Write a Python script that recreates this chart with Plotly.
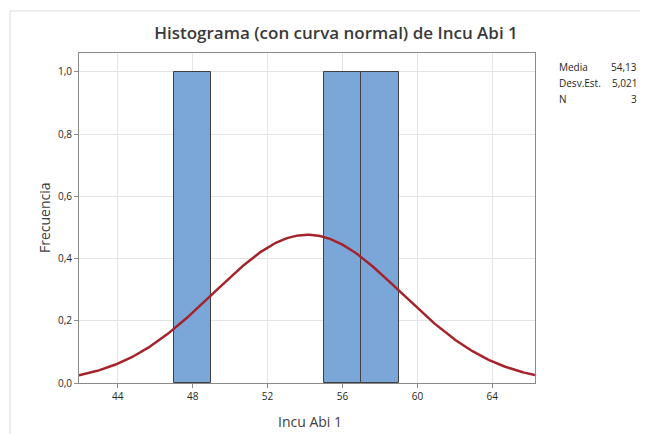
import numpy as np
import plotly.graph_objects as go

# Histogram bins (centers), counts
bin_centers = [48, 56, 58]
counts = [1, 1, 1]
bin_width = 2

# Summary statistics
media = 54.13
desv_est = 5.021
n = 3

x_ticks = [44, 48, 52, 56, 60, 64]
y_ticks = [0.0, 0.2, 0.4, 0.6, 0.8, 1.0]
y_tick_labels = ["0,0", "0,2", "0,4", "0,6", "0,8", "1,0"]

x_range = [41.93, 66.28]
y_range = [0, 1.061]

# Fitted normal curve scaled to frequency
xs = np.linspace(x_range[0], x_range[1], 300)
ys = n * bin_width / (desv_est * np.sqrt(2 * np.pi)) * np.exp(-0.5 * ((xs - media) / desv_est) ** 2)

FONT = "Open Sans"
OFF = 8  # page body margin
fig = go.Figure()
fig.add_trace(go.Bar(
    x=bin_centers, y=counts, width=[bin_width] * len(counts),
    marker=dict(color="#7BA6D8", line=dict(color="#3f3f3f", width=1)),
    showlegend=False, hoverinfo="skip",
))
fig.add_trace(go.Scatter(
    x=xs, y=ys, mode="lines", line=dict(color="#A5232A", width=2.5),
    showlegend=False, hoverinfo="skip",
))

W, H = 648 - OFF, 434 - OFF
L, R, T, B = 79 - OFF, 113, 53 - OFF, 51
pw, ph = W - L - R, H - T - B

def px(xp):
    return (xp - OFF - L) / pw

def py(yp):
    return (H - B - (yp - OFF)) / ph

fig.update_layout(
    width=W, height=H,
    margin=dict(l=L, r=R, t=T, b=B, pad=0, autoexpand=False),
    paper_bgcolor="white", plot_bgcolor="white",
    font=dict(family=FONT, color="#262626", size=10),
    bargap=0,
    title=dict(text="Histograma (con curva normal) de Incu Abi 1",
               x=(336 - OFF) / W, xanchor="center", y=1 - (33 - OFF) / H, yanchor="middle",
               font=dict(family=FONT, size=17, color="#3a3a3a", weight=600)),
    xaxis=dict(range=x_range, tickvals=x_ticks, ticktext=[str(v) for v in x_ticks],
               automargin=False,
               showgrid=True, gridcolor="#e4e4e4", gridwidth=1,
               showline=True, linecolor="#8a8a8a", linewidth=1, mirror=True,
               ticks="outside", ticklen=4, tickcolor="#8a8a8a", zeroline=False,
               tickfont=dict(size=10, color="#262626")),
    yaxis=dict(range=y_range, tickvals=y_ticks, ticktext=y_tick_labels,
               automargin=False,
               showgrid=True, gridcolor="#e4e4e4", gridwidth=1,
               showline=True, linecolor="#8a8a8a", linewidth=1, mirror=True,
               ticks="outside", ticklen=4, tickcolor="#8a8a8a", zeroline=False,
               tickfont=dict(size=10, color="#262626")),
)

# Axis titles
fig.add_annotation(text="Incu Abi 1", xref="paper", yref="paper", x=px(310), y=py(421),
                   xanchor="center", yanchor="middle", showarrow=False,
                   font=dict(size=14, color="#404040"))
fig.add_annotation(text="Frecuencia", xref="paper", yref="paper", x=px(44), y=py(218),
                   xanchor="center", yanchor="middle", showarrow=False, textangle=-90,
                   font=dict(size=14, color="#404040"))

# Outer frame lines (top and left)
fig.add_shape(type="line", xref="paper", yref="paper",
              x0=px(10), y0=py(434), x1=px(10), y1=py(11),
              line=dict(color="#dcdcdc", width=1))
fig.add_shape(type="line", xref="paper", yref="paper",
              x0=px(10), y0=py(11), x1=px(648), y1=py(11),
              line=dict(color="#dcdcdc", width=1))

# Stats box
labels = ["Media", "Desv.Est.", "N"]
values = [f"{media:.2f}".replace(".", ","), f"{desv_est:.3f}".replace(".", ","), str(n)]
row_y = [67, 83, 99]
for lab, val, yy in zip(labels, values, row_y):
    fig.add_annotation(text=lab, xref="paper", yref="paper", x=px(557), y=py(yy),
                       xanchor="left", yanchor="middle", showarrow=False,
                       font=dict(size=10, color="#262626"))
    fig.add_annotation(text=val, xref="paper", yref="paper", x=px(639), y=py(yy),
                       xanchor="right", yanchor="middle", showarrow=False,
                       font=dict(size=10, color="#262626"))

fig.write_html("out.html")
